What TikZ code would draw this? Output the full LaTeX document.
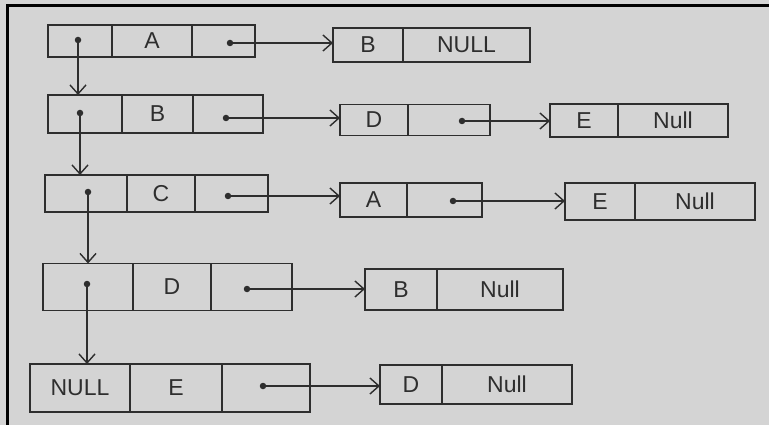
\documentclass[tikz,border=0pt]{standalone}
\usepackage{fontspec}
\setmainfont{Liberation Sans}
\usetikzlibrary{arrows.meta}
\definecolor{ink}{HTML}{2E2E2E}
\definecolor{paper}{HTML}{D4D4D4}
\begin{document}
\begin{tikzpicture}[x=1pt,y=-1pt,
  cell/.style 2 args={draw=ink, line width=1.8pt, minimum width=#1, minimum height=#2,
    inner sep=0pt, outer sep=0pt, text=ink, font=\fontsize{23}{27}\selectfont},
  dot/.style={circle, fill=ink, inner sep=0pt, minimum size=6.5pt},
  link/.style={draw=ink, line width=1.4pt, -{Straight Barb[length=9pt,width=16pt,line width=1.4pt]}}]
\useasboundingbox (0,0) rectangle (769,425);
\fill[paper] (0,0) rectangle (769,425);
\draw[line width=3pt, black] (7,425) -- (7,6) -- (769,6);

% Row 1
\node[cell={64pt}{32pt}] (r1a) at (80,41) {};
\node[cell={80pt}{32pt}] (r1b) at (152,41) {A};
\node[cell={63pt}{32pt}] (r1c) at (223.5,41) {};
\node[cell={70pt}{34pt}] (r1d) at (368,45) {B};
\node[cell={127pt}{34pt}] (r1e) at (466.5,45) {NULL};
\node[dot] (d1) at (78,40) {};
\node[dot] (p1) at (230,43) {};

% Row 2
\node[cell={74pt}{38pt}] (r2a) at (85,114) {};
\node[cell={71pt}{38pt}] (r2b) at (157.5,114) {B};
\node[cell={70pt}{38pt}] (r2c) at (228,114) {};
\node[cell={68pt}{31pt}] (r2d) at (374,120) {D};
\node[cell={82pt}{31pt}] (r2e) at (449,120) {};
\node[cell={68pt}{33pt}] (r2f) at (584,120.5) {E};
\node[cell={110pt}{33pt}] (r2g) at (673,120.5) {Null};
\node[dot] (d2) at (80,113) {};
\node[dot] (p2) at (226,118) {};
\node[dot] (q2) at (462,121) {};

% Row 3
\node[cell={82pt}{37pt}] (r3a) at (86,193.5) {};
\node[cell={68pt}{37pt}] (r3b) at (161,193.5) {C};
\node[cell={73pt}{37pt}] (r3c) at (231.5,193.5) {};
\node[cell={67pt}{34pt}] (r3d) at (373.5,200) {A};
\node[cell={75pt}{34pt}] (r3e) at (444.5,200) {};
\node[cell={70pt}{37pt}] (r3f) at (600,201.5) {E};
\node[cell={120pt}{37pt}] (r3g) at (695,201.5) {Null};
\node[dot] (d3) at (88,192) {};
\node[dot] (p3) at (228,196) {};
\node[dot] (q3) at (453,201) {};

% Row 4
\node[cell={90pt}{47pt}] (r4a) at (88,287) {};
\node[cell={78pt}{47pt}] (r4b) at (172,287) {D};
\node[cell={81pt}{47pt}] (r4c) at (251.5,287) {};
\node[cell={72pt}{41pt}] (r4d) at (401,289.5) {B};
\node[cell={126pt}{41pt}] (r4e) at (500,289.5) {Null};
\node[dot] (d4) at (87,284) {};
\node[dot] (p4) at (247,289) {};

% Row 5
\node[cell={100pt}{48pt}] (r5a) at (80,388) {NULL};
\node[cell={92pt}{48pt}] (r5b) at (176,388) {E};
\node[cell={88pt}{48pt}] (r5c) at (266,388) {};
\node[cell={62pt}{39pt}] (r5d) at (411,384.5) {D};
\node[cell={130pt}{39pt}] (r5e) at (507,384.5) {Null};
\node[dot] (p5) at (263,386) {};

% vertical links
\draw[link] (d1.center) -- (d1.center |- r2a.north);
\draw[link] (d2.center) -- (d2.center |- r3a.north);
\draw[link] (d3.center) -- (d3.center |- r4a.north);
\draw[link] (d4.center) -- (d4.center |- r5a.north);

% horizontal links
\draw[link] (p1.center) -- (p1.center -| r1d.west);
\draw[link] (p2.center) -- (p2.center -| r2d.west);
\draw[link] (q2.center) -- (q2.center -| r2f.west);
\draw[link] (p3.center) -- (p3.center -| r3d.west);
\draw[link] (q3.center) -- (q3.center -| r3f.west);
\draw[link] (p4.center) -- (p4.center -| r4d.west);
\draw[link] (p5.center) -- (p5.center -| r5d.west);
\end{tikzpicture}
\end{document}
